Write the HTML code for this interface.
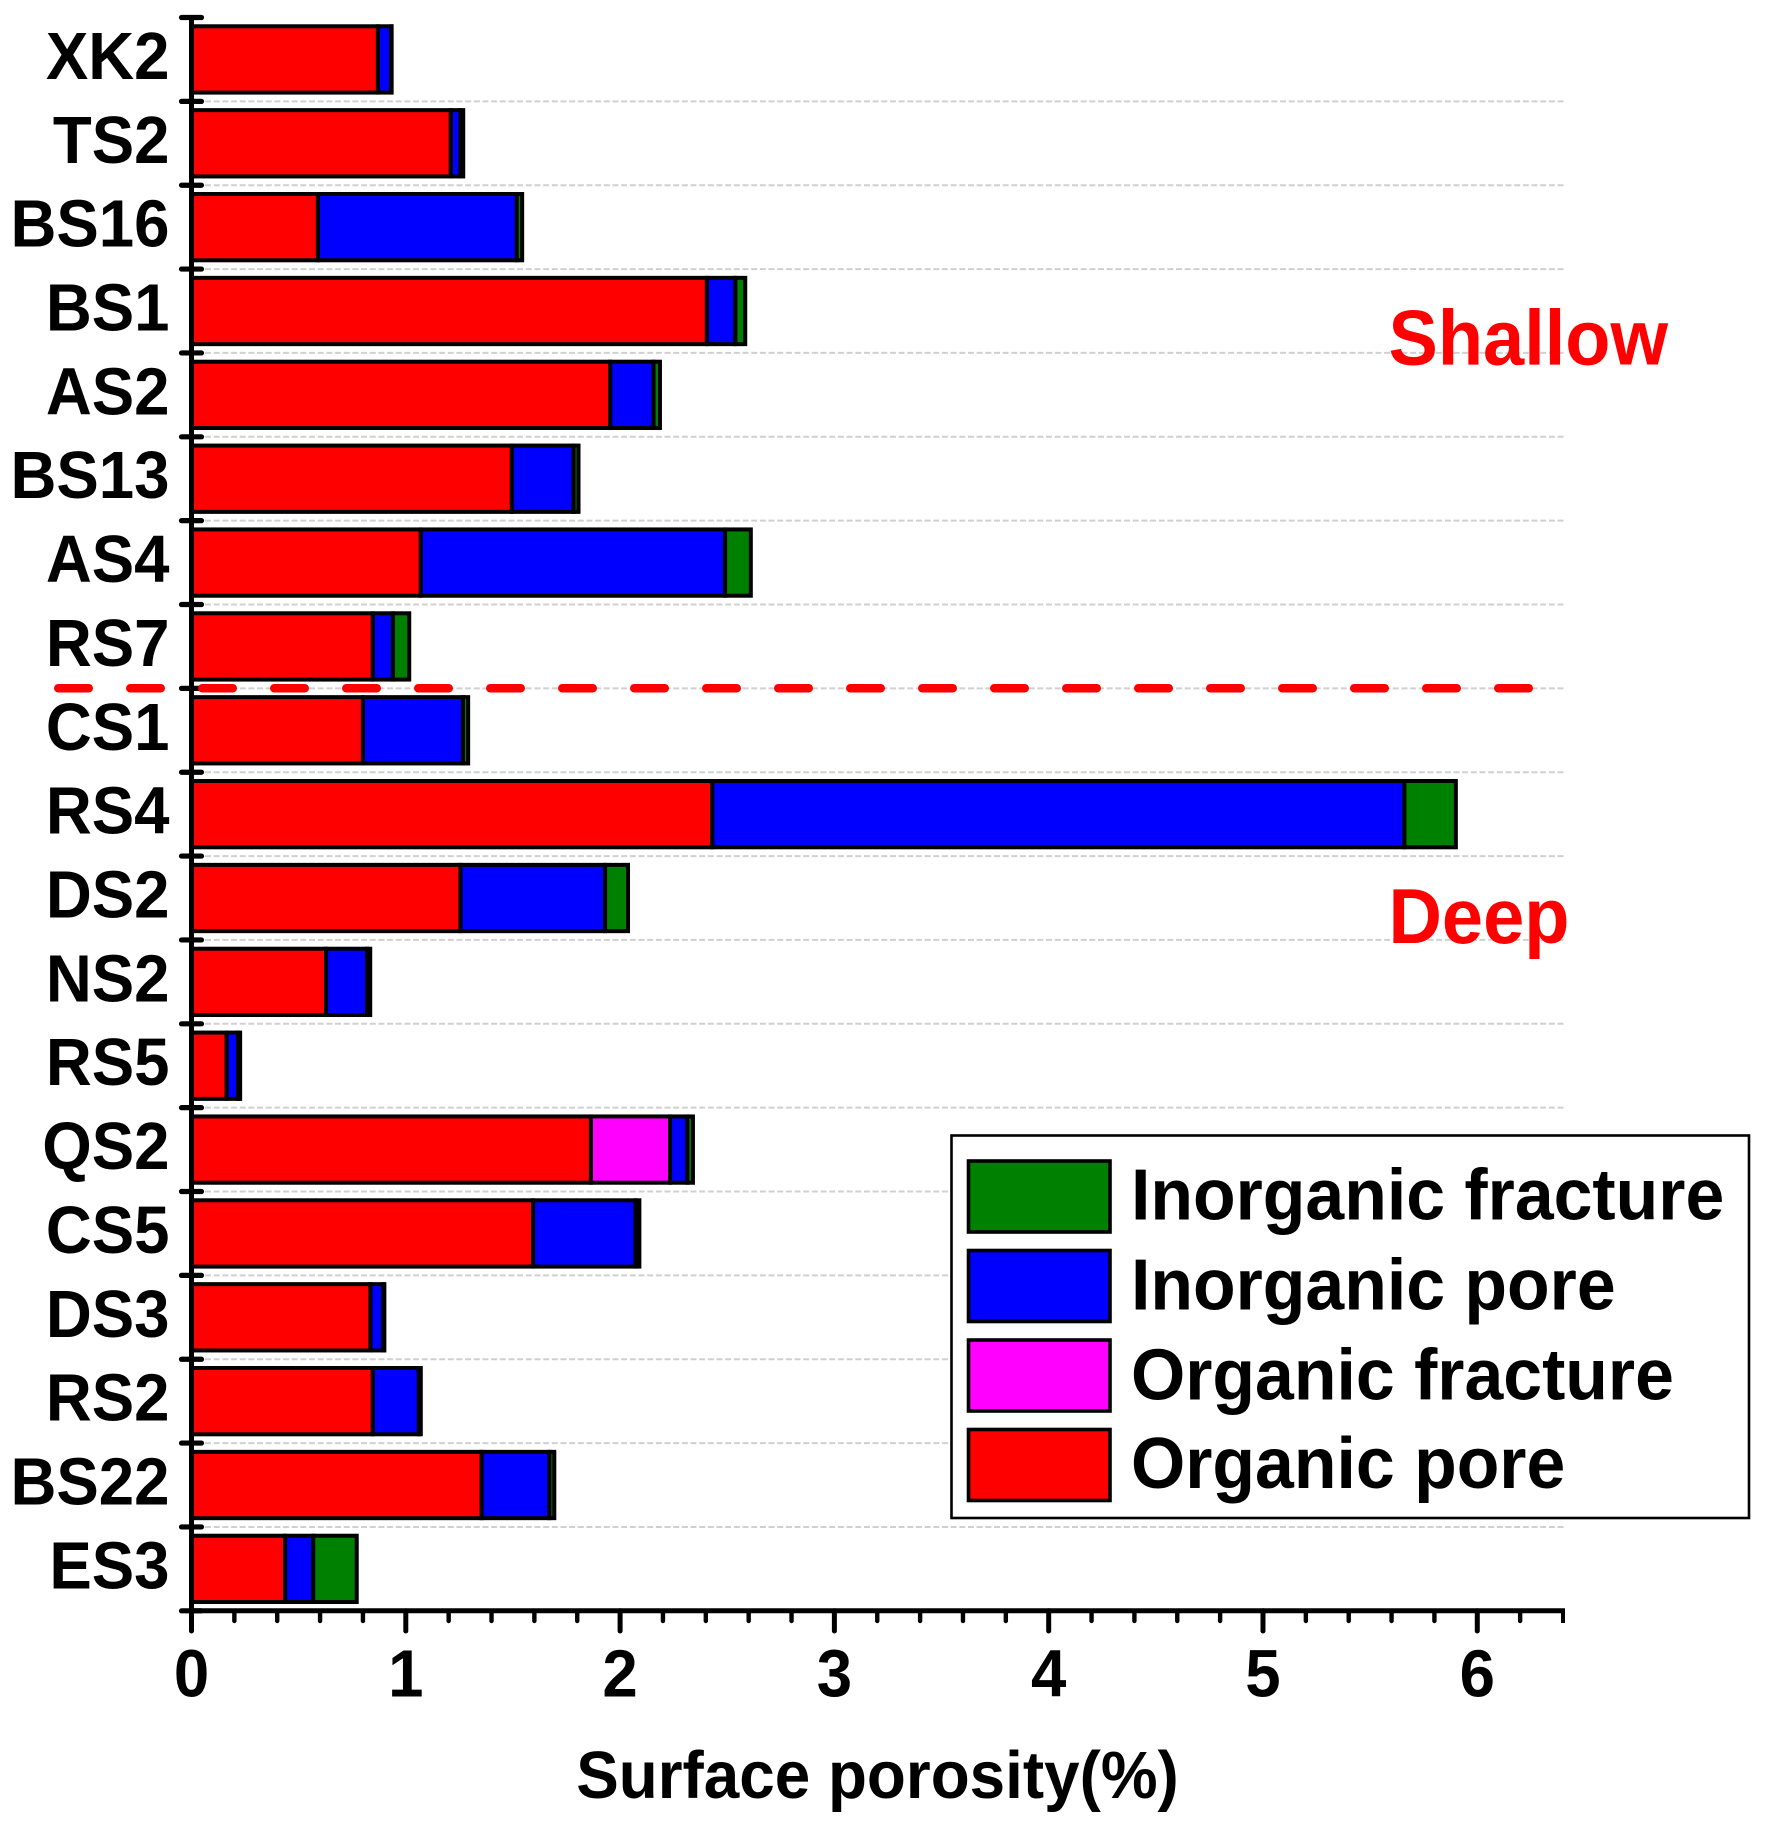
<!DOCTYPE html>
<html lang="en">
<head>
<meta charset="utf-8">
<title>Surface porosity by sample</title>
<style>
html,body{margin:0;padding:0;background:#fff;width:1777px;height:1836px;overflow:hidden}
svg{display:block}
text{font-family:"Liberation Sans",Arial,sans-serif;font-weight:bold}
</style>
</head>
<body>
<svg id="chart" xmlns="http://www.w3.org/2000/svg" width="1777" height="1836" viewBox="0 0 1777 1836">
<rect width="1777" height="1836" fill="#fff"/>
<g id="grid"></g>
<g id="bars"></g>
<g id="axes"></g>
<line x1="58.25" y1="688.3" x2="1529" y2="688.3" stroke="#f00" stroke-width="8.5" stroke-linecap="round" stroke-dasharray="30.5 41.5"/>
<text transform="translate(1388.5,364.5) scale(1,1.05)" font-size="74" fill="#f00">Shallow</text>
<text transform="translate(1388.5,943) scale(1,1.05)" font-size="74" fill="#f00">Deep</text>
<text transform="translate(877.5,1798) scale(1,1.04)" font-size="63.8" text-anchor="middle" fill="#000">Surface porosity(%)</text>
<g>
<rect x="951.5" y="1135.5" width="797.5" height="382.5" fill="#fff" stroke="#000" stroke-width="2.6"/>
<g>
<rect x="968.5" y="1161" width="141.5" height="71" fill="#008000" stroke="#000" stroke-width="3.6"/>
<text transform="translate(1131,1219.5) scale(1,1.04)" font-size="69.8">Inorganic fracture</text>
</g>
<g>
<rect x="968.5" y="1250.5" width="141.5" height="71" fill="#00f" stroke="#000" stroke-width="3.6"/>
<text transform="translate(1131,1309.5) scale(1,1.04)" font-size="69.8">Inorganic pore</text>
</g>
<g>
<rect x="968.5" y="1340" width="141.5" height="71" fill="#f0f" stroke="#000" stroke-width="3.6"/>
<text transform="translate(1131,1399.5) scale(1,1.04)" font-size="69.8">Organic fracture</text>
</g>
<g>
<rect x="968.5" y="1429.5" width="141.5" height="71" fill="#f00" stroke="#000" stroke-width="3.6"/>
<text transform="translate(1131,1488) scale(1,1.04)" font-size="69.8">Organic pore</text>
</g>
</g>
</svg>
<script>
const categories = ["XK2","TS2","BS16","BS1","AS2","BS13","AS4","RS7","CS1","RS4","DS2","NS2","RS5","QS2","CS5","DS3","RS2","BS22","ES3"];
const organicPore = [0.870,1.21,0.59,2.405,1.954,1.495,1.07,0.846,0.80,2.43,1.255,0.628,0.164,1.864,1.594,0.835,0.846,1.354,0.437];
const organicFracture = [0,0,0,0,0,0,0,0,0,0,0,0,0,0.369,0,0,0,0,0];
const inorganicPore = [0.062,0.045,0.928,0.133,0.202,0.288,1.42,0.094,0.467,3.23,0.675,0.192,0.054,0.081,0.478,0.06,0.215,0.316,0.131];
const inorganicFracture = [0.002,0.013,0.025,0.046,0.03,0.023,0.12,0.076,0.024,0.24,0.107,0.014,0.009,0.026,0.018,0.005,0.009,0.023,0.203];
const xMajorTicks = [0,1,2,3,4,5,6];
const xMinorTicks = [0.2,0.4,0.6,0.8,1.2,1.4,1.6,1.8,2.2,2.4,2.6,2.8,3.2,3.4,3.6,3.8,4.2,4.4,4.6,4.8,5.2,5.4,5.6,5.8,6.2];
const xMax = 6.4;

const NS = "http://www.w3.org/2000/svg";
const plot = {left:191.5, right:1563, top:17.5, bottom:1610.8};
function xScale(v){ return plot.left + v / xMax * (plot.right - plot.left); }
function bandEdge(i){ return plot.top + i * (plot.bottom - plot.top) / categories.length; }
function bandCenter(i){ return bandEdge(i + 0.5); }
function make(tag, attrs, parent){
  const el = document.createElementNS(NS, tag);
  for (const k in attrs) el.setAttribute(k, attrs[k]);
  parent.appendChild(el);
  return el;
}
const gridG = document.getElementById("grid");
const barsG = document.getElementById("bars");
const axesG = document.getElementById("axes");

for (let i = 1; i < categories.length; i++) {
  const g = make("line", {x1:205, x2:1564, y1:bandEdge(i), y2:bandEdge(i), stroke:"#d0d0d0", "stroke-width":2, "stroke-dasharray":"6 2.67"}, gridG);
  
  
}

const seriesList = [
  {key:"organic-pore", values:organicPore, color:"#f00"},
  {key:"organic-fracture", values:organicFracture, color:"#f0f"},
  {key:"inorganic-pore", values:inorganicPore, color:"#00f"},
  {key:"inorganic-fracture", values:inorganicFracture, color:"#008000"}
];
const barHeight = 66.3;
categories.forEach(function(cat, i){
  let acc = 0;
  seriesList.forEach(function(s){
    const v = s.values[i];
    if (v > 0) {
      const r = make("rect", {x:xScale(acc), y:bandCenter(i) - barHeight / 2, width:xScale(acc + v) - xScale(acc), height:barHeight, fill:s.color, stroke:"#000", "stroke-width":4}, barsG);
      
      
      r.setAttribute('data-series', s.key);
      r.setAttribute('data-category', cat);
    }
    acc += v;
  });
  const lab = make("text", {transform:"translate(169.5," + (bandCenter(i) + 19.5) + ") scale(1,1.05)", "font-size":63.6, "text-anchor":"end", fill:"#000"}, axesG);
  lab.textContent = cat;
  
  
});

for (let i = 0; i <= categories.length; i++) {
  const t = make("line", {x1:181.5, x2:201.5, y1:bandEdge(i), y2:bandEdge(i), stroke:"#000", "stroke-width":5.2, "stroke-linecap":"round"}, axesG);
  
  
}
const yAxisLine = make("line", {x1:plot.left, x2:plot.left, y1:plot.top, y2:plot.bottom, stroke:"#000", "stroke-width":5}, axesG);


const xAxisLine = make("line", {x1:plot.left, x2:plot.right + 2, y1:plot.bottom, y2:plot.bottom, stroke:"#000", "stroke-width":5}, axesG);



xMinorTicks.forEach(function(v){
  const t = make("line", {x1:xScale(v), x2:xScale(v), y1:plot.bottom, y2:1621, stroke:"#000", "stroke-width":4.4, "stroke-linecap":"round"}, axesG);
  
  
});
const xEndTick = make("line", {x1:plot.right, x2:plot.right, y1:plot.bottom, y2:1623, stroke:"#000", "stroke-width":4}, axesG);


xMajorTicks.forEach(function(v){
  const t = make("line", {x1:xScale(v), x2:xScale(v), y1:plot.bottom, y2:1631, stroke:"#000", "stroke-width":5, "stroke-linecap":"round"}, axesG);
  
  
  const lab = make("text", {transform:"translate(" + xScale(v) + ",1696.5) scale(1,1.05)", "font-size":63.6, "text-anchor":"middle", fill:"#000"}, axesG);
  lab.textContent = String(v);
  
  
});
</script>
</body>
</html>
